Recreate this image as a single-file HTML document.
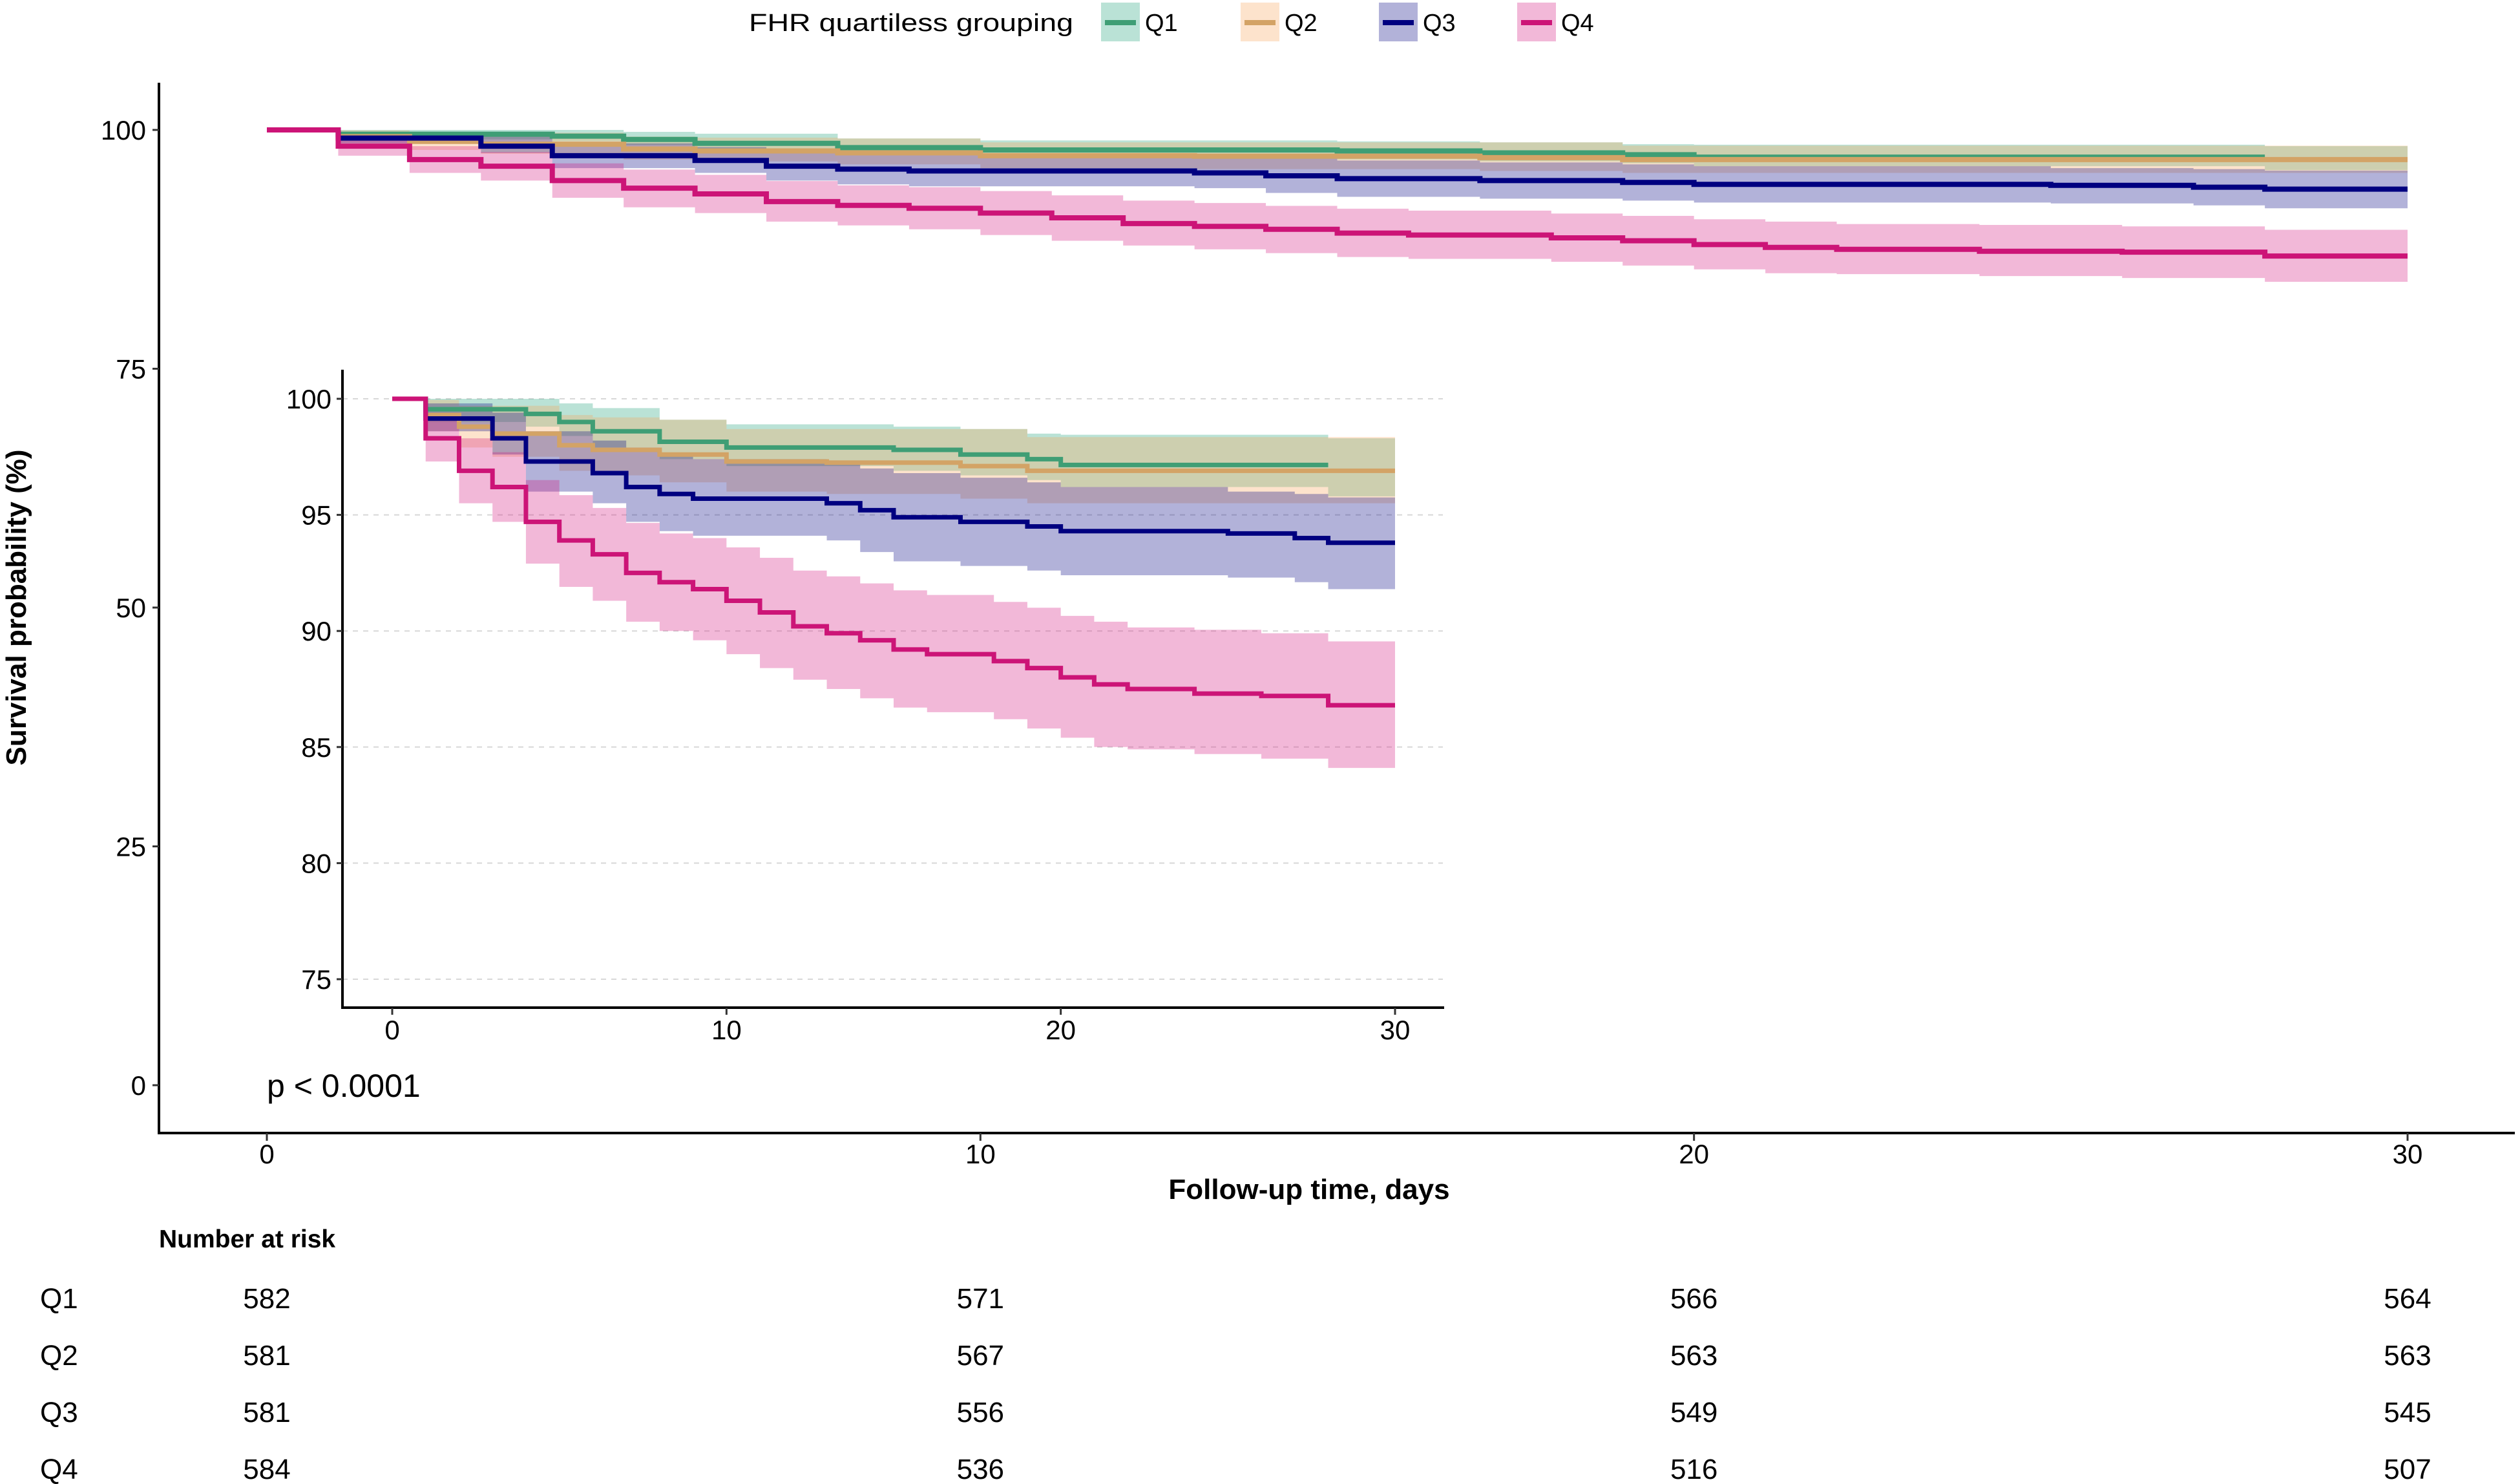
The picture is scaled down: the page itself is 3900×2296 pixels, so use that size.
<!DOCTYPE html>
<html><head><meta charset="utf-8"><style>
html,body{margin:0;padding:0;background:#fff;}
svg{display:block;font-family:"Liberation Sans",Arial,sans-serif;}
</style></head><body>
<svg id="chart" width="3900" height="2296" viewBox="0 0 3900 2296" xmlns="http://www.w3.org/2000/svg"></svg>
<script>
// ---- data ----
const groups = ["Q1","Q2","Q3","Q4"];
const q1Times = [0,1,4,5,6,8,10,15,17,19,20,28,30];
const q1Est   = [100,99.55,99.35,99.0,98.6,98.15,97.9,97.8,97.6,97.4,97.15];
const q1Up    = [100,100,100,99.8,99.6,99.1,98.9,98.8,98.7,98.5,98.45,98.3];
const q1Lo    = [100,99.0,98.8,98.4,97.9,97.4,97.1,96.9,96.7,96.5,96.2,95.8];
const q2Times = [0,1,2,3,5,6,8,10,13,17,19,30];
const q2Est   = [100,99.3,98.8,98.5,98.0,97.8,97.6,97.3,97.25,97.1,96.9];
const q2Up    = [100,99.95,99.7,99.7,99.3,99.2,99.1,98.7,98.7,98.7,98.35];
const q2Lo    = [100,98.6,97.9,97.5,96.9,96.7,96.4,96.0,95.9,95.7,95.5];
const q3Times = [0,1,3,4,6,7,8,9,13,14,15,17,19,20,25,27,28,30];
const q3Est   = [100,99.15,98.3,97.3,96.8,96.2,95.9,95.7,95.5,95.2,94.9,94.7,94.5,94.3,94.2,94.0,93.8];
const q3Up    = [100,99.8,99.4,98.6,98.2,97.9,97.6,97.4,97.2,97.0,96.8,96.6,96.4,96.2,96.0,95.9,95.75];
const q3Lo    = [100,98.6,97.6,96.0,95.5,94.7,94.3,94.1,93.9,93.4,93.0,92.8,92.6,92.4,92.3,92.1,91.8];
const q4Times = [0,1,2,3,4,5,6,7,8,9,10,11,12,13,14,15,16,18,19,20,21,22,24,26,28,30];
const q4Est   = [100,98.3,96.9,96.2,94.7,93.9,93.3,92.5,92.1,91.8,91.3,90.8,90.2,89.9,89.6,89.2,89.0,88.7,88.4,88.0,87.7,87.5,87.3,87.2,86.8];
const q4Up    = [100,99.4,98.3,97.7,96.5,95.85,95.3,94.65,94.2,94.0,93.6,93.15,92.6,92.35,92.05,91.75,91.55,91.25,91.0,90.65,90.4,90.15,90.05,89.9,89.55];
const q4Lo    = [100,97.3,95.5,94.7,92.9,91.9,91.3,90.4,90.0,89.6,89.0,88.4,87.9,87.5,87.1,86.7,86.5,86.2,85.8,85.4,85.0,84.9,84.7,84.5,84.1];
const mainYTicks = [0,25,50,75,100];
const insetYTicks = [75,80,85,90,95,100];
const xTicks = [0,10,20,30];
const riskQ1 = [582,571,566,564];
const riskQ2 = [581,567,563,563];
const riskQ3 = [581,556,549,545];
const riskQ4 = [584,536,516,507];

const series = [
 {name:"q1",times:q1Times,est:q1Est,up:q1Up,lo:q1Lo,line:"#3f9e75",band:"#1b9e77"},
 {name:"q2",times:q2Times,est:q2Est,up:q2Up,lo:q2Lo,line:"#d3a366",band:"#f8a355"},
 {name:"q3",times:q3Times,est:q3Est,up:q3Up,lo:q3Lo,line:"#000080",band:"#000080"},
 {name:"q4",times:q4Times,est:q4Est,up:q4Up,lo:q4Lo,line:"#cc1477",band:"#d4137d"}
];
const risks = [riskQ1,riskQ2,riskQ3,riskQ4];

const NS="http://www.w3.org/2000/svg";
const svg=document.getElementById('chart');
function el(tag,attrs,parent,text){const e=document.createElementNS(NS,tag);for(const k in attrs)e.setAttribute(k,attrs[k]);if(text!==undefined)e.textContent=text;(parent||svg).appendChild(e);return e;}

function stepPath(times,vals,sx,sy){
  let d="M"+sx(times[0])+","+sy(vals[0]);
  for(let i=0;i<vals.length;i++){
    d+=" H"+sx(times[i+1]);
    if(i+1<vals.length) d+=" V"+sy(vals[i+1]);
  }
  return d;
}
function bandPath(times,up,lo,sx,sy){
  let d="M"+sx(times[0])+","+sy(up[0]);
  for(let i=0;i<up.length;i++){d+=" H"+sx(times[i+1]); if(i+1<up.length) d+=" V"+sy(up[i+1]);}
  d+=" V"+sy(lo[lo.length-1]);
  for(let i=lo.length-1;i>=0;i--){d+=" H"+sx(times[i]); if(i>0) d+=" V"+sy(lo[i-1]);}
  return d+" Z";
}

function drawPanel(prefix,sx,sy,lw){
  const g=el('g',{});
  
  
  series.forEach(s=>{
    const b=el('path',{d:bandPath(s.times,s.up,s.lo,sx,sy),fill:s.band,'fill-opacity':0.3,stroke:'none'},g);
    
    
  });
  series.forEach(s=>{
    const l=el('path',{d:stepPath(s.times,s.est,sx,sy),fill:'none',stroke:s.line,'stroke-width':lw},g);
    
    
  });
}

// ---- main plot ----
const mx=t=>413+(t/30)*(3726-413);
const my=v=>1679-(v/100)*(1679-201);
drawPanel('main',mx,my,8);
el('line',{x1:246,y1:128,x2:246,y2:1753,stroke:'#000','stroke-width':4});
el('line',{x1:244,y1:1753,x2:3892,y2:1753,stroke:'#000','stroke-width':4});
mainYTicks.forEach(v=>{
  el('line',{x1:236,y1:my(v),x2:246,y2:my(v),stroke:'#333','stroke-width':3});
  const t=el('text',{x:226,y:my(v)+15,'font-size':42,'text-anchor':'end',fill:'#000'},svg,String(v));
  
  
});
xTicks.forEach(v=>{
  el('line',{x1:mx(v),y1:1753,x2:mx(v),y2:1765,stroke:'#333','stroke-width':3});
  const t=el('text',{x:mx(v),y:1800,'font-size':42,'text-anchor':'middle',fill:'#000'},svg,String(v));
  
  
});

// ---- inset ----
const ix=t=>607+(t/30)*(2159-607);
const iy=v=>617+((100-v)/25)*(1515-617);
insetYTicks.forEach(v=>{
  el('line',{x1:530,y1:iy(v),x2:2233,y2:iy(v),stroke:'#d8d8d8','stroke-width':2,'stroke-dasharray':'8,8'});
});
drawPanel('inset',ix,iy,7);
el('line',{x1:530,y1:572,x2:530,y2:1560,stroke:'#000','stroke-width':4});
el('line',{x1:528,y1:1559,x2:2235,y2:1559,stroke:'#000','stroke-width':4});
insetYTicks.forEach(v=>{
  el('line',{x1:521,y1:iy(v),x2:530,y2:iy(v),stroke:'#333','stroke-width':3});
  const t=el('text',{x:513,y:iy(v)+15,'font-size':42,'text-anchor':'end',fill:'#000'},svg,String(v));
  
  
});
xTicks.forEach(v=>{
  el('line',{x1:ix(v),y1:1559,x2:ix(v),y2:1570,stroke:'#333','stroke-width':3});
  const t=el('text',{x:ix(v),y:1608,'font-size':42,'text-anchor':'middle',fill:'#000'},svg,String(v));
  
  
});

// ---- titles / annotations ----
let t;
t=el('text',{x:2026,y:1855,'font-size':44,'font-weight':'bold','text-anchor':'middle'},svg,'Follow-up time, days');


t=el('text',{x:0,y:0,'font-size':44,'font-weight':'bold','text-anchor':'middle',transform:'translate(40,940) rotate(-90)'},svg,'Survival probability (%)');


t=el('text',{x:413,y:1697,'font-size':50},svg,'p < 0.0001');



// ---- legend ----
t=el('text',{x:1159,y:48,'font-size':38,textLength:502,lengthAdjust:'spacingAndGlyphs'},svg,'FHR quartiless grouping');


const legX=[1704,1920,2134,2348];
series.forEach((s,i)=>{
  const g=el('g',{});
  
  
  el('rect',{x:legX[i],y:4,width:60,height:60,fill:s.band,'fill-opacity':0.3},g);
  el('line',{x1:legX[i]+6,y1:35,x2:legX[i]+54,y2:35,stroke:s.line,'stroke-width':8},g);
  el('text',{x:legX[i]+68,y:48,'font-size':38},g,groups[i]);
});

// ---- risk table ----
t=el('text',{x:246,y:1930,'font-size':39,'font-weight':'bold'},svg,'Number at risk');


const rowY=[2024,2112,2200,2288];
risks.forEach((r,i)=>{
  const lab=el('text',{x:62,y:rowY[i],'font-size':44},svg,groups[i]);
  
  
  r.forEach((n,j)=>{
    const c=el('text',{x:mx(xTicks[j]),y:rowY[i],'font-size':44,'text-anchor':'middle'},svg,String(n));
    
    
  });
});
</script>
</body></html>
